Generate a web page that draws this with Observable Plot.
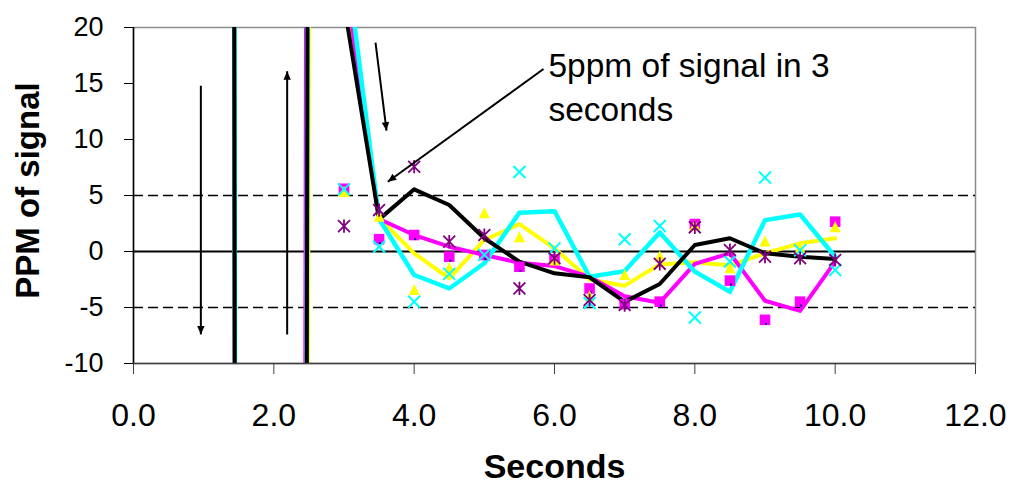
<!DOCTYPE html>
<html><head><meta charset="utf-8">
<script src="https://cdn.jsdelivr.net/npm/d3@7"></script>
<script src="https://cdn.jsdelivr.net/npm/@observablehq/plot@0.6"></script>
<style>
html,body{margin:0;padding:0;background:#fff;}
#chart{width:1010px;height:489px;overflow:hidden}
svg{display:block}
</style></head><body><div id="chart"></div>
<script>
// ---- data ----
const lineSeconds = [1.0,1.5,2.0,2.5,3.0,3.5,4.0,4.5,5.0,5.5,6.0,6.5,7.0,7.5,8.0,8.5,9.0,9.5,10.0];
const blackLine   = [2000,-270,-1500,85,22.1,2.87,5.55,4.15,1.18,-0.9,-1.95,-2.3,-4.5,-2.9,0.58,1.18,-0.16,-0.46,-0.67];
const yellowLine  = [2000,-270,-1500,25,23.4,3.0,-0.16,-2.4,1.03,2.45,0.28,-2.5,-3.05,-1.15,-0.97,-1.26,-0.16,0.73,1.18];
const cyanLine    = [2000,-255,-1500,90,27.6,2.9,-2.1,-3.3,-1.05,3.47,3.6,-2.25,-1.75,1.7,-1.8,-3.6,2.8,3.3,-0.46];
const magentaLine = [2000,-280,-1500,160,25.2,2.9,1.47,0.43,-0.31,-1.0,-1.3,-2.25,-4.0,-4.57,-1.1,-0.16,-4.4,-5.3,-0.9];

const pointSeconds = [3.0,3.5,4.0,4.5,5.0,5.5,6.0,6.5,7.0,7.5,8.0,8.5,9.0,9.5,10.0];
const squarePts   = [5.6,1.1,1.47,-0.46,-0.31,-1.36,-0.7,-3.3,-4.7,-4.48,2.45,-2.6,-6.1,-4.48,2.66];
const trianglePts = [5.3,3.1,-3.44,-1.47,3.4,1.27,-0.8,-4.0,-2.1,-0.46,2.3,-1.5,0.88,0.3,2.16];
const crossPts    = [5.55,0.43,-4.48,-2.0,-0.3,7.1,0.28,-4.6,1.1,2.27,-5.9,-0.9,6.6,0.1,-1.65];
const starPts     = [2.27,3.7,7.57,0.88,1.47,-3.29,-0.6,-4.33,-4.78,-1.1,2.16,0.13,-0.46,-0.6,-0.76];

const limitLines = [5, -5];
const zeroLine = [0];
const xTicks = [0,2,4,6,8,10,12];
const yTicks = [-10,-5,0,5,10,15,20];

const arrowX1 = [0.96, 2.19, 3.449, 5.843];
const arrowY1 = [14.8, -7.4, 18.64, 16.3];
const arrowX2 = [0.96, 2.19, 3.606, 3.624];
const arrowY2 = [-7.4, 16.1, 10.79, 6.23];

const noteText = ["5ppm of signal in 3\nseconds"];
const noteX = [5.914];
const noteY = [18.4];

const yTitle = "PPM of signal";
const xTitle = "Seconds";

// ---- build tables ----
const mkLine = (vals) => lineSeconds.map((s,i)=>({s, v: vals[i]}));
const mkPts = (vals) => pointSeconds.map((s,i)=>({s, v: vals[i]}));
const arrows = arrowX1.map((x,i)=>({x1:x, y1:arrowY1[i], x2:arrowX2[i], y2:arrowY2[i]}));
const notes = noteText.map((t,i)=>({t, x: noteX[i], y: noteY[i]}));

// custom symbols (half-size = r)
const symSquare = {draw(c,size){const h=Math.sqrt(size/Math.PI); c.moveTo(-h,-h);c.lineTo(h,-h);c.lineTo(h,h);c.lineTo(-h,h);c.closePath();}};
const symTri = {draw(c,size){const h=Math.sqrt(size/Math.PI); c.moveTo(0,-h*1.1);c.lineTo(h,h*0.9);c.lineTo(-h,h*0.9);c.closePath();}};
const symX = {draw(c,size){const h=Math.sqrt(size/Math.PI); c.moveTo(-h,-h);c.lineTo(h,h);c.moveTo(-h,h);c.lineTo(h,-h);}};
const symStar = {draw(c,size){const h=Math.sqrt(size/Math.PI); const k=h*0.9; c.moveTo(-k,-k);c.lineTo(k,k);c.moveTo(-k,k);c.lineTo(k,-k);c.moveTo(0,-h);c.lineTo(0,h);}};

const chart = Plot.plot({
  width: 1010,
  height: 489,
  marginLeft: 133,
  marginRight: 35,
  marginTop: 27,
  marginBottom: 126,
  style: {fontFamily: '"Liberation Sans", Arial, sans-serif', background: "white", color: "black"},
  x: {domain: [0, 12]},
  y: {domain: [-10, 20]},
  marks: [
    Plot.frame({stroke: "#8c8c8c", strokeWidth: 1.5}),
    Plot.ruleY(limitLines, {stroke: "black", strokeWidth: 1.6, strokeDasharray: "10,5"}),
    Plot.ruleY(zeroLine, {stroke: "black", strokeWidth: 1.8}),
    Plot.line(mkLine(yellowLine), {x: "s", y: "v", stroke: "#ffff00", strokeWidth: 4, clip: true}),
    Plot.line(mkLine(magentaLine), {x: "s", y: "v", stroke: "#ff00ff", strokeWidth: 4, clip: true}),
    Plot.line(mkLine(cyanLine), {x: "s", y: "v", stroke: "#00ffff", strokeWidth: 4.5, clip: true}),
    Plot.line(mkLine(blackLine), {x: "s", y: "v", stroke: "black", strokeWidth: 4, clip: true}),
    Plot.dot(mkPts(squarePts), {x: "s", y: "v", symbol: symSquare, r: 5.3, fill: "#ff00ff", stroke: "none"}),
    Plot.dot(mkPts(squarePts), {x: "s", y: "v", r: 1.1, fill: "#000080", stroke: "none", dx: 1, dy: 4}),
    Plot.dot(mkPts(trianglePts), {x: "s", y: "v", symbol: symTri, r: 5.5, fill: "#ffff00", stroke: "none"}),
    Plot.dot(mkPts(crossPts), {x: "s", y: "v", symbol: symX, r: 6, fill: "none", stroke: "#00ffff", strokeWidth: 2}),
    Plot.dot(mkPts(starPts), {x: "s", y: "v", symbol: symStar, r: 6.6, fill: "none", stroke: "#800080", strokeWidth: 1.8}),
    Plot.link(arrows, {x1: "x1", y1: "y1", x2: "x2", y2: "y2", stroke: "black", strokeWidth: 2, markerEnd: "arrow"}),
    Plot.text(notes, {x: "x", y: "y", text: "t", textAnchor: "start", lineAnchor: "top", fontSize: 33.5, lineHeight: 1.32, fill: "black"}),
    Plot.ruleX([0], {stroke: "black", strokeWidth: 1.5}),
    Plot.ruleY([-10], {stroke: "#404040", strokeWidth: 1.5}),
    Plot.axisY(yTicks, {tickSize: 9, tickPadding: 21, fontSize: 27, label: null, stroke: "black", tickFormat: d => String(d)}),
    Plot.axisX(xTicks, {tickSize: 11, tickPadding: 29, fontSize: 32, label: null, tickFormat: d3.format(".1f"), stroke: "#404040"}),
    Plot.text([yTitle], {text: d => d, frameAnchor: "left", textAnchor: "middle", dx: -105, dy: -5, rotate: -90, fontSize: 33, fontWeight: "bold", fill: "black"}),
    Plot.text([xTitle], {text: d => d, frameAnchor: "bottom", textAnchor: "middle", dy: 114, fontSize: 34, fontWeight: "bold", fill: "black"})
  ]
});

// filled arrowheads
chart.querySelectorAll("marker").forEach(m => {
  m.setAttribute("markerUnits", "userSpaceOnUse");
  m.setAttribute("viewBox", "-10 -6 12 12");
  m.setAttribute("markerWidth", 12);
  m.setAttribute("markerHeight", 12);
  m.setAttribute("fill", "black");
  m.setAttribute("stroke", "none");
  const p = m.querySelector("path");
  if (p) p.setAttribute("d", "M-8.5,-3.7L0,0L-8.5,3.7Z");
});

document.getElementById("chart").appendChild(chart);
</script>
</body></html>
